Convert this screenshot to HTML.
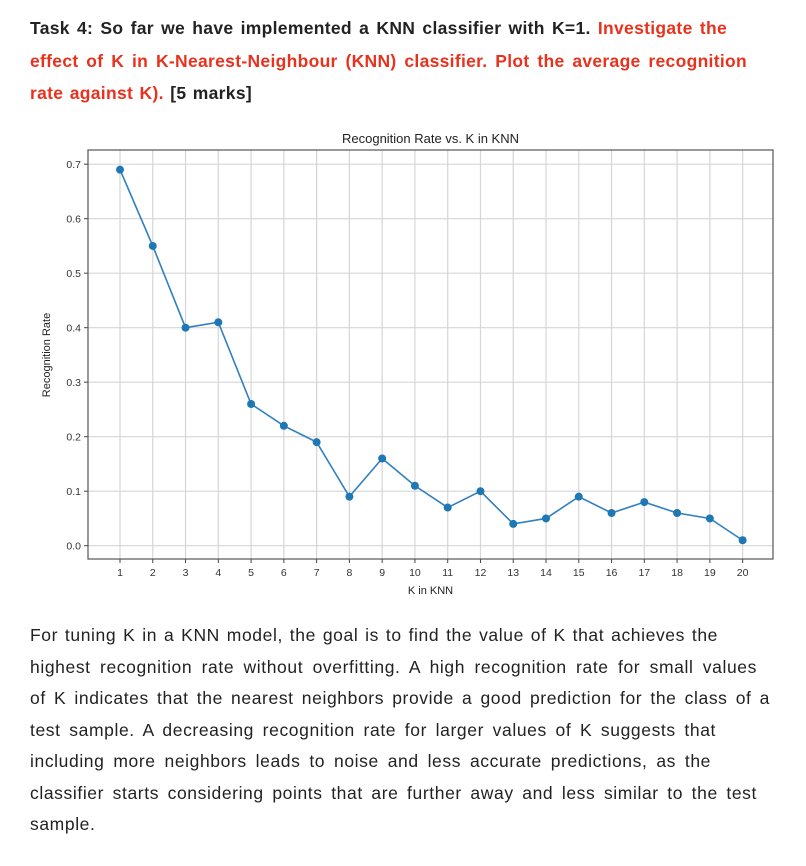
<!DOCTYPE html>
<html><head><meta charset="utf-8">
<style>
body{margin:0;background:#fff;width:806px;height:866px;overflow:hidden;font-family:"Liberation Sans",sans-serif;}
.h{position:absolute;left:30px;top:12px;font-size:17.5px;font-weight:bold;line-height:32.5px;color:#222;letter-spacing:0.3px;}
.r{color:#e8321e;}
.p{position:absolute;left:30px;top:620px;font-size:17.5px;line-height:31.5px;color:#222;letter-spacing:0.6px;}
.l{display:block;white-space:nowrap;text-align:justify;text-align-last:justify;}
svg{position:absolute;left:0;top:0;}
</style></head><body>
<div class="h">
<span class="l" style="width:697px">Task 4: So far we have implemented a KNN classifier with K=1. <span class="r">Investigate the</span></span>
<span class="l r" style="width:717px">effect of K in K-Nearest-Neighbour (KNN) classifier. Plot the average recognition</span>
<span class="l" style="width:222px"><span class="r">rate against K).</span> [5 marks]</span>
</div>
<svg id="c" width="806" height="610"></svg>
<div class="p">
<span class="l" style="width:688px">For tuning K in a KNN model, the goal is to find the value of K that achieves the</span>
<span class="l" style="width:727px">highest recognition rate without overfitting. A high recognition rate for small values</span>
<span class="l" style="width:740px">of K indicates that the nearest neighbors provide a good prediction for the class of a</span>
<span class="l" style="width:686px">test sample. A decreasing recognition rate for larger values of K suggests that</span>
<span class="l" style="width:681px">including more neighbors leads to noise and less accurate predictions, as the</span>
<span class="l" style="width:727px">classifier starts considering points that are further away and less similar to the test</span>
<span class="l" style="width:67px">sample.</span>
</div>
<script>
const kValues=[1,2,3,4,5,6,7,8,9,10,11,12,13,14,15,16,17,18,19,20];
const rates=[0.69,0.55,0.40,0.41,0.26,0.22,0.19,0.09,0.16,0.11,0.07,0.10,0.04,0.05,0.09,0.06,0.08,0.06,0.05,0.01];
const yTicks=[0,0.1,0.2,0.3,0.4,0.5,0.6,0.7];
const yTickLabels=["0.0","0.1","0.2","0.3","0.4","0.5","0.6","0.7"];
const NS="http://www.w3.org/2000/svg";
const svg=document.getElementById('c');
const L=88,R=773,T=150,B=559;
const xs=k=>120+(k-1)*32.77;
function y(v){return 545.7-v*54.5/0.1;}
function mk(t,a,name){const e=document.createElementNS(NS,t);for(const k in a)e.setAttribute(k,a[k]);svg.appendChild(e);return e;}
kValues.forEach(k=>{mk('line',{x1:xs(k),x2:xs(k),y1:T,y2:B,stroke:'#d6d6d6','stroke-width':1.2},'x-gridline');
mk('line',{x1:xs(k),x2:xs(k),y1:B,y2:B+4,stroke:'#444'},'x-tick');
const t=mk('text',{x:xs(k),y:B+17,'font-size':10.5,'text-anchor':'middle',fill:'#333'},'x-tick-label');t.textContent=k;});
yTicks.forEach((v,i)=>{mk('line',{x1:L,x2:R,y1:y(v),y2:y(v),stroke:'#d6d6d6','stroke-width':1.2},'y-gridline');
mk('line',{x1:L-4,x2:L,y1:y(v),y2:y(v),stroke:'#444'},'y-tick');
const t=mk('text',{x:L-7,y:y(v)+4,'font-size':10.5,'text-anchor':'end',fill:'#333'},'y-tick-label');t.textContent=yTickLabels[i];});
mk('rect',{x:L,y:T,width:R-L,height:B-T,fill:'none',stroke:'#555','stroke-width':1.2},'plot-frame');
mk('polyline',{points:kValues.map((k,i)=>xs(k)+','+y(rates[i])).join(' '),fill:'none',stroke:'#2f7fc1','stroke-width':1.6},'rate-line');
kValues.forEach((k,i)=>mk('circle',{cx:xs(k),cy:y(rates[i]),r:4,fill:'#1f77b4'},'rate-point'));
let t=mk('text',{x:(L+R)/2,y:143,'font-size':13,'text-anchor':'middle',fill:'#222'},'chart-title');t.textContent='Recognition Rate vs. K in KNN';
t=mk('text',{x:(L+R)/2,y:594,'font-size':11,'text-anchor':'middle',fill:'#222'},'x-axis-title');t.textContent='K in KNN';
t=mk('text',{x:0,y:0,'font-size':11,'text-anchor':'middle',fill:'#222',transform:'translate(50,355) rotate(-90)'},'y-axis-title');t.textContent='Recognition Rate';
</script>
</body></html>
